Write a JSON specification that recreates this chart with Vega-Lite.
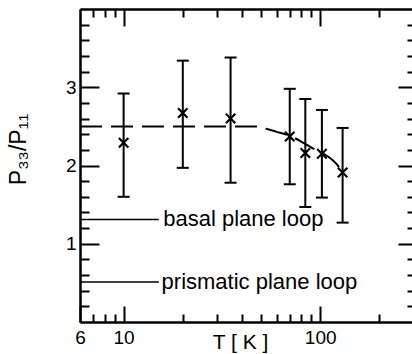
{
  "$schema": "https://vega.github.io/schema/vega-lite/v6.json",
  "width": 334,
  "height": 313,
  "autosize": "none",
  "padding": {"left": 80, "top": 9, "right": 0, "bottom": 32},
  "background": "white",
  "config": {
    "view": {"stroke": null},
    "font": "Liberation Sans",
    "axis": {
      "grid": false,
      "domainColor": "black",
      "domainWidth": 2,
      "tickColor": "black",
      "tickWidth": 2,
      "labelColor": "black",
      "labelFont": "Liberation Sans",
      "labelFontSize": 19,
      "titleColor": "black",
      "titleFont": "Liberation Sans",
      "titleFontWeight": "normal",
      "labelFlush": false
    }
  },
  "datasets": {
    "pts": [
      {"T": 10, "ratio": 2.29, "lo": 1.6, "hi": 2.92},
      {"T": 20, "ratio": 2.67, "lo": 1.97, "hi": 3.34},
      {"T": 35, "ratio": 2.6, "lo": 1.78, "hi": 3.38},
      {"T": 70, "ratio": 2.37, "lo": 1.76, "hi": 2.98},
      {"T": 84, "ratio": 2.16, "lo": 1.47, "hi": 2.85},
      {"T": 102, "ratio": 2.15, "lo": 1.59, "hi": 2.71},
      {"T": 130, "ratio": 1.91, "lo": 1.27, "hi": 2.48}
    ],
    "curve": [
      {"T": 6, "v": 2.5},
      {"T": 47, "v": 2.5},
      {"T": 53, "v": 2.47},
      {"T": 60, "v": 2.43},
      {"T": 70, "v": 2.38},
      {"T": 86, "v": 2.26},
      {"T": 95, "v": 2.2},
      {"T": 104, "v": 2.15},
      {"T": 113, "v": 2.09},
      {"T": 120, "v": 2.03},
      {"T": 130, "v": 1.91}
    ],
    "refs": [
      {"T0": 6, "T1": 15.1, "Tt": 15.9, "v": 1.31, "label": "basal plane loop"},
      {"T0": 6, "T1": 15.1, "Tt": 15.6, "v": 0.51, "label": "prismatic plane loop"}
    ]
  },
  "layer": [
    {
      "data": {"name": "pts"},
      "mark": {"type": "rule", "color": "black", "strokeWidth": 2},
      "encoding": {
        "x": {
          "field": "T", "type": "quantitative",
          "scale": {"type": "log", "domain": [6, 300], "nice": false},
          "axis": {"orient": "bottom", "values": [6, 10, 100], "tickSize": -16, "labelPadding": 22,
                   "title": "T [ K ]", "titleFontSize": 21, "titleBaseline": "top", "titleY": 9, "titleX": 160, "titleAlign": "center"}
        },
        "y": {
          "field": "lo", "type": "quantitative",
          "scale": {"domain": [0, 4], "nice": false},
          "axis": {"orient": "left", "values": [1, 2, 3], "tickSize": -19, "labelPadding": 23,
                   "title": "P₃₃/P₁₁", "titleFontSize": 23, "titleAngle": 270, "titleAlign": "center", "titleBaseline": "alphabetic", "titleX": -55, "titleY": 140}
        },
        "y2": {"field": "hi"}
      }
    },
    {
      "data": {"name": "pts"},
      "transform": [{"fold": ["lo", "hi"], "as": ["end", "val"]}],
      "mark": {"type": "point", "shape": "M-1,0L1,0", "size": 144, "filled": false, "color": "black", "strokeWidth": 2, "opacity": 1},
      "encoding": {
        "x": {
          "field": "T", "type": "quantitative",
          "scale": {"type": "log", "domain": [6, 300], "nice": false},
          "axis": {"orient": "bottom", "values": [7, 8, 9, 20, 30, 40, 50, 60, 70, 80, 90, 200], "tickSize": -8, "labels": false, "title": null}
        },
        "y": {
          "field": "val", "type": "quantitative",
          "scale": {"domain": [0, 4], "nice": false},
          "axis": {"orient": "left", "values": [0.2, 0.4, 0.6, 0.8, 1.2, 1.4, 1.6, 1.8, 2.2, 2.4, 2.6, 2.8, 3.2, 3.4, 3.6, 3.8], "tickSize": -9, "labels": false, "title": null}
        }
      }
    },
    {
      "data": {"name": "pts"},
      "mark": {"type": "point", "shape": "M-1,-1L1,1M-1,1L1,-1", "size": 90, "filled": false, "color": "black", "strokeWidth": 2.2, "opacity": 1},
      "encoding": {
        "x": {
          "field": "T", "type": "quantitative",
          "scale": {"type": "log", "domain": [6, 300], "nice": false},
          "axis": {"orient": "top", "values": [10, 100], "tickSize": -17, "labels": false, "title": null}
        },
        "y": {
          "field": "ratio", "type": "quantitative",
          "scale": {"domain": [0, 4], "nice": false},
          "axis": {"orient": "right", "values": [1, 2, 3], "tickSize": -16, "labels": false, "title": null}
        }
      }
    },
    {
      "data": {"name": "curve"},
      "mark": {"type": "line", "color": "black", "strokeWidth": 2, "strokeDash": [22, 9], "interpolate": "monotone"},
      "encoding": {
        "x": {
          "field": "T", "type": "quantitative",
          "scale": {"type": "log", "domain": [6, 300], "nice": false},
          "axis": {"orient": "top", "values": [7, 8, 9, 20, 30, 40, 50, 60, 70, 80, 90, 200], "tickSize": -8, "labels": false, "title": null}
        },
        "y": {
          "field": "v", "type": "quantitative",
          "scale": {"domain": [0, 4], "nice": false},
          "axis": {"orient": "right", "values": [0.2, 0.4, 0.6, 0.8, 1.2, 1.4, 1.6, 1.8, 2.2, 2.4, 2.6, 2.8, 3.2, 3.4, 3.6, 3.8], "tickSize": -7, "labels": false, "title": null}
        }
      }
    },
    {
      "data": {"name": "refs"},
      "mark": {"type": "rule", "color": "black", "strokeWidth": 1.5},
      "encoding": {
        "x": {"field": "T0", "type": "quantitative", "scale": {"type": "log", "domain": [6, 300], "nice": false}, "axis": null},
        "x2": {"field": "T1"},
        "y": {"field": "v", "type": "quantitative", "scale": {"domain": [0, 4], "nice": false}, "axis": null}
      }
    },
    {
      "data": {"name": "refs"},
      "mark": {"type": "text", "align": "left", "baseline": "middle", "fontSize": 22, "font": "Liberation Sans", "color": "black"},
      "encoding": {
        "x": {"field": "Tt", "type": "quantitative", "scale": {"type": "log", "domain": [6, 300], "nice": false}, "axis": null},
        "y": {"field": "v", "type": "quantitative", "scale": {"domain": [0, 4], "nice": false}, "axis": null},
        "text": {"field": "label"}
      }
    }
  ],
  "resolve": {"axis": {"x": "independent", "y": "independent"}}
}
